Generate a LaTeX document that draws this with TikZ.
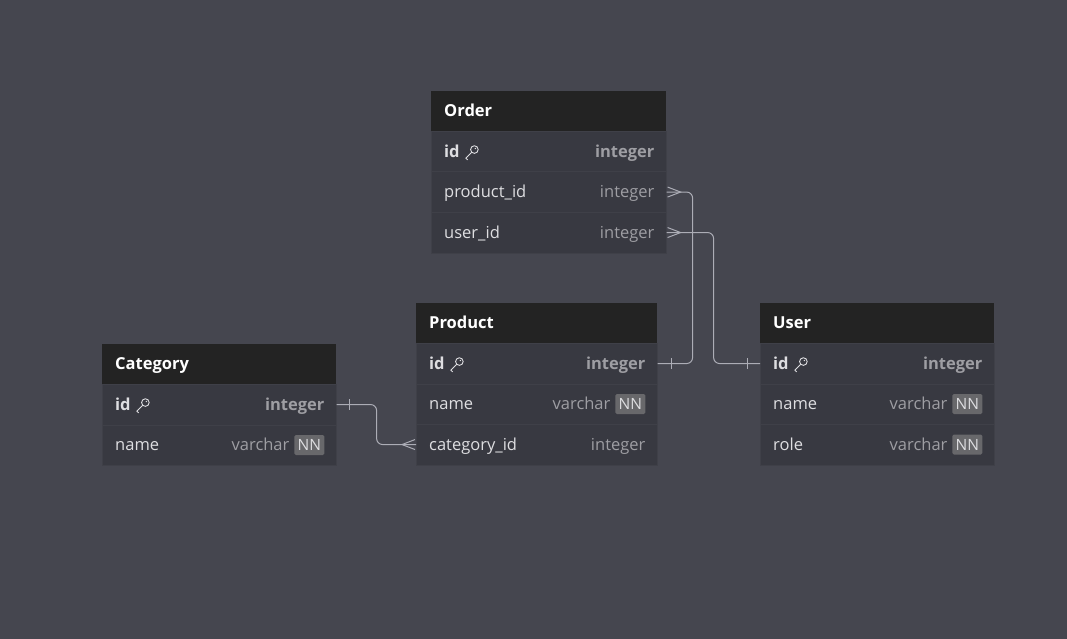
\documentclass[tikz,border=0pt]{standalone}
\usepackage{fontspec}
\setmainfont{Open Sans}
\usetikzlibrary{calc}
\definecolor{canvas}{RGB}{69,70,79}
\definecolor{headblack}{RGB}{35,35,35}
\definecolor{rowgray}{RGB}{56,57,65}
\definecolor{rowline}{RGB}{63,64,72}
\definecolor{fieldtext}{RGB}{222,222,225}
\definecolor{typetext}{RGB}{158,158,163}
\definecolor{badgegray}{RGB}{104,104,107}
\definecolor{linkgray}{RGB}{172,173,182}
\newcommand{\keyicon}[1]{%
  \begin{scope}[shift={#1},draw=fieldtext,line width=0.9pt]
    \draw (9.5,-7.5) circle (3.8);
    \draw (6.8,-4.8) -- (1,1) -- (2.8,2.8);
    \fill[fieldtext] (10.5,-8.5) circle (0.8);
  \end{scope}}
\tikzset{
  head/.style={fill=headblack,minimum height=40pt,anchor=north west,inner sep=0pt},
  row/.style={fill=rowgray,draw=rowline,line width=0.6pt,minimum height=40.5pt,
              anchor=north west,inner sep=0pt},
  title/.style={font=\fontsize{16.5}{19}\selectfont\bfseries,text=white,anchor=base west,inner sep=0pt},
  fname/.style={font=\fontsize{16.5}{19}\selectfont,text=fieldtext,anchor=base west,inner sep=0pt},
  pkname/.style={fname,font=\fontsize{16.5}{19}\selectfont\bfseries},
  ftype/.style={font=\fontsize{16.5}{19}\selectfont,text=typetext,anchor=base east,inner sep=0pt},
  pktype/.style={ftype,font=\fontsize{16.5}{19}\selectfont\bfseries},
  nn/.style={fill=badgegray,text=fieldtext,font=\fontsize{15.5}{18}\selectfont,
             minimum width=30pt,minimum height=20pt,inner sep=0pt,anchor=east,rounded corners=1.5pt},
  link/.style={draw=linkgray,line width=1pt,rounded corners=6pt},
  relend/.style={draw=linkgray,line width=1pt},
}

\begin{document}
\begin{tikzpicture}[x=1pt,y=-1pt]
  \fill[canvas] (0,0) rectangle (1067,639);
  \path[use as bounding box] (0,0) rectangle (1067,639);

  % Order
  \node[head,minimum width=235pt] (ord-head) at (431,91) {};
  \node[row,minimum width=235pt] (ord-id) at (431,131) {};
  \node[row,minimum width=235pt] (ord-pid) at (431,171.5) {};
  \node[row,minimum width=235pt] (ord-uid) at (431,212) {};
  \node[title] (ord-title) at ($(ord-head.west)+(13,5)$) {Order};
  \node[pkname] (ord-idn) at ($(ord-id.west)+(13,5.5)$) {id};
  \keyicon{($(ord-idn.base east)+(5,0)$)}
  \node[pktype] (ord-idt) at ($(ord-id.east)+(-12,5.5)$) {integer};
  \node[fname] (ord-pidn) at ($(ord-pid.west)+(13,5.5)$) {product\_id};
  \node[ftype] (ord-pidt) at ($(ord-pid.east)+(-12,5.5)$) {integer};
  \node[fname] (ord-uidn) at ($(ord-uid.west)+(13,5.5)$) {user\_id};
  \node[ftype] (ord-uidt) at ($(ord-uid.east)+(-12,5.5)$) {integer};

  % Product
  \node[head,minimum width=241pt] (prd-head) at (416,303) {};
  \node[row,minimum width=241pt] (prd-id) at (416,343) {};
  \node[row,minimum width=241pt] (prd-name) at (416,383.5) {};
  \node[row,minimum width=241pt] (prd-cid) at (416,424) {};
  \node[title] (prd-title) at ($(prd-head.west)+(13,5)$) {Product};
  \node[pkname] (prd-idn) at ($(prd-id.west)+(13,5.5)$) {id};
  \keyicon{($(prd-idn.base east)+(5,0)$)}
  \node[pktype] (prd-idt) at ($(prd-id.east)+(-12,5.5)$) {integer};
  \node[fname] (prd-namen) at ($(prd-name.west)+(13,5.5)$) {name};
  \node[nn] (prd-namenn) at ($(prd-name.east)+(-12,0)$) {NN};
  \node[ftype] (prd-namet) at ($(prd-name.east)+(-47,5.5)$) {varchar};
  \node[fname] (prd-cidn) at ($(prd-cid.west)+(13,5.5)$) {category\_id};
  \node[ftype] (prd-cidt) at ($(prd-cid.east)+(-12,5.5)$) {integer};

  % Category
  \node[head,minimum width=234pt] (cat-head) at (102,344) {};
  \node[row,minimum width=234pt] (cat-id) at (102,384) {};
  \node[row,minimum width=234pt] (cat-name) at (102,424.5) {};
  \node[title] (cat-title) at ($(cat-head.west)+(13,5)$) {Category};
  \node[pkname] (cat-idn) at ($(cat-id.west)+(13,5.5)$) {id};
  \keyicon{($(cat-idn.base east)+(5,0)$)}
  \node[pktype] (cat-idt) at ($(cat-id.east)+(-12,5.5)$) {integer};
  \node[fname] (cat-namen) at ($(cat-name.west)+(13,5.5)$) {name};
  \node[nn] (cat-namenn) at ($(cat-name.east)+(-12,0)$) {NN};
  \node[ftype] (cat-namet) at ($(cat-name.east)+(-47,5.5)$) {varchar};

  % User
  \node[head,minimum width=234pt] (usr-head) at (760,303) {};
  \node[row,minimum width=234pt] (usr-id) at (760,343) {};
  \node[row,minimum width=234pt] (usr-name) at (760,383.5) {};
  \node[row,minimum width=234pt] (usr-role) at (760,424) {};
  \node[title] (usr-title) at ($(usr-head.west)+(13,5)$) {User};
  \node[pkname] (usr-idn) at ($(usr-id.west)+(13,5.5)$) {id};
  \keyicon{($(usr-idn.base east)+(5,0)$)}
  \node[pktype] (usr-idt) at ($(usr-id.east)+(-12,5.5)$) {integer};
  \node[fname] (usr-namen) at ($(usr-name.west)+(13,5.5)$) {name};
  \node[nn] (usr-namenn) at ($(usr-name.east)+(-12,0)$) {NN};
  \node[ftype] (usr-namet) at ($(usr-name.east)+(-47,5.5)$) {varchar};
  \node[fname] (usr-rolen) at ($(usr-role.west)+(13,5.5)$) {role};
  \node[nn] (usr-rolenn) at ($(usr-role.east)+(-12,0)$) {NN};
  \node[ftype] (usr-rolet) at ($(usr-role.east)+(-47,5.5)$) {varchar};

  % relations
  \draw[link] (ord-pid.east) -- ++(26,0) |- (prd-id.east);
  \draw[link] (ord-uid.east) -- ++(47,0) |- (usr-id.west);
  \draw[link] (cat-id.east) -- ++(40,0) |- (prd-cid.west);

  % crow's feet and bars
  \draw[relend] ($(ord-pid.east)+(1,-5)$) -- ++(13,5) -- ++(-13,5);
  \draw[relend] ($(ord-uid.east)+(1,-5)$) -- ++(13,5) -- ++(-13,5);
  \draw[relend] ($(prd-cid.west)+(-1,-5)$) -- ++(-13,5) -- ++(13,5);
  \draw[relend] ($(prd-id.east)+(14,-5.5)$) -- ++(0,11);
  \draw[relend] ($(usr-id.west)+(-13,-5.5)$) -- ++(0,11);
  \draw[relend] ($(cat-id.east)+(13,-5.5)$) -- ++(0,11);
\end{tikzpicture}
\end{document}
